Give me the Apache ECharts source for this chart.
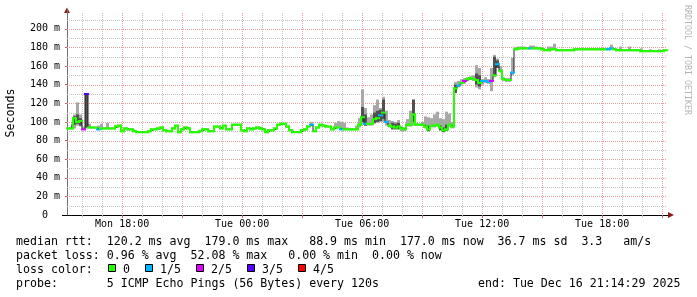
<!DOCTYPE html>
<html>
<head>
<meta charset="utf-8">
<script src="https://cdn.jsdelivr.net/npm/echarts@6/dist/echarts.min.js"></script>
<style>
html,body{margin:0;padding:0;background:#fff;}
#c{width:697px;height:297px;}
</style>
</head>
<body>
<div id="c"></div>
<script>
// ---- time grid (hours since Mon 00:00) ----
const T_START = 15 + 14 / 60 + 29 / 3600;   // Mon 15:14:29
const T_END = T_START + 30;                 // Tue 21:14:29
const STEP = 0.15;                          // 9 minutes per sample

// ---- tick positions / labels ----
const xLabelHours = [18, 24, 30, 36, 42];
const xTickLabels = ['Mon 18:00', 'Tue 00:00', 'Tue 06:00', 'Tue 12:00', 'Tue 18:00'];
const xMajorHours = [18, 21, 24, 27, 30, 33, 36, 39, 42, 45];
const xMinorHours = [16, 17, 19, 20, 22, 23, 25, 26, 28, 29, 31, 32, 34, 35, 37, 38, 40, 41, 43, 44];
const yLabelValues = [0, 20, 40, 60, 80, 100, 120, 140, 160, 180, 200];
const yTickLabels = ['0  ', '20 m', '40 m', '60 m', '80 m', '100 m', '120 m', '140 m', '160 m', '180 m', '200 m'];
const yMajorValues = [20, 40, 60, 80, 100, 120, 140, 160, 180, 200];
const yMinorValues = [10, 30, 50, 70, 90, 110, 130, 150, 170, 190, 210];

// ---- median rtt (ms) per sample ----
const median = [
  93, 93, 104, 100, 101, 92, 130, 94, 94, 94,
  92, 93, 93, 93, 93, 93, 95, 96, 90, 93,
  92, 92, 90, 89, 89, 89, 89, 90, 92, 92,
  93, 94, 91, 90, 90, 93, 96, 89, 92, 94,
  93, 89, 89, 89, 90, 92, 92, 90, 90, 95,
  95, 93, 96, 92, 92, 97, 97, 97, 91, 90,
  93, 92, 93, 94, 93, 92, 89, 91, 91, 93,
  97, 98, 98, 95, 91, 89, 89, 89, 91, 92,
  95, 97, 90, 94, 97, 96, 95, 95, 92, 94,
  94, 92, 92, 92, 92, 92, 92, 97, 105, 98,
  98, 98, 103, 104, 107, 110, 100, 96, 95, 94,
  95, 93, 92, 97, 97, 108, 97, 97, 97, 95,
  92, 96, 96, 97, 94, 91, 92, 97, 95, 136,
  139, 142, 144, 146, 147, 146, 145, 142, 144, 144,
  143, 144, 150, 162, 155, 146, 145, 145, 153, 178,
  179, 179, 179, 179, 179, 179, 179, 179, 178, 177,
  177, 178, 178, 177, 177, 177, 177, 177, 177, 178,
  178, 178, 178, 178, 178, 178, 178, 178, 178, 178,
  178, 179, 178, 177, 177, 177, 177, 177, 177, 177,
  177, 176, 176, 176, 176, 176, 176, 176, 176, 177
];

// ---- smoke (spread of pings) upper / lower per sample ----
const smokeHi = [
  94, 94, 108, 121, 108, 95, 130, 98, 95, 95,
  96, 98, 94, 99, 94, 94, 96, 97, 91, 94,
  93, 93, 91, 90, 90, 90, 90, 91, 93, 93,
  94, 95, 92, 91, 91, 94, 97, 90, 93, 95,
  94, 90, 90, 90, 91, 93, 93, 91, 91, 96,
  96, 94, 97, 93, 93, 98, 98, 98, 92, 91,
  94, 93, 94, 95, 94, 93, 90, 92, 92, 94,
  98, 99, 99, 96, 92, 90, 90, 90, 92, 93,
  96, 100, 91, 95, 98, 97, 96, 96, 93, 99,
  101, 100, 99, 94, 93, 93, 96, 104, 135, 115,
  105, 108, 118, 124, 115, 127, 112, 102, 101, 100,
  102, 95, 94, 103, 112, 124, 99, 98, 100, 106,
  105, 104, 108, 111, 104, 103, 111, 109, 100, 143,
  144, 146, 147, 148, 149, 150, 161, 158, 146, 148,
  146, 158, 172, 168, 160, 148, 147, 147, 169, 180,
  181, 181, 181, 180, 182, 182, 181, 180, 179, 178,
  181, 181, 184, 178, 178, 178, 178, 178, 178, 179,
  179, 179, 179, 179, 179, 179, 179, 179, 179, 179,
  179, 183, 179, 178, 181, 178, 178, 181, 178, 178,
  178, 179, 177, 177, 178, 177, 177, 178, 177, 178
];
const smokeLo = [
  92, 92, 93, 96, 95, 91, 93, 93, 93, 93,
  91, 92, 92, 92, 92, 92, 94, 95, 89, 92,
  91, 91, 89, 88, 88, 88, 88, 89, 91, 91,
  92, 93, 90, 89, 89, 92, 95, 88, 91, 93,
  92, 88, 88, 88, 89, 91, 91, 89, 89, 94,
  94, 92, 95, 91, 91, 96, 96, 96, 90, 89,
  92, 91, 92, 93, 92, 91, 88, 90, 90, 92,
  96, 97, 97, 94, 90, 88, 88, 88, 90, 91,
  94, 96, 89, 93, 96, 95, 94, 94, 91, 93,
  93, 91, 91, 91, 91, 91, 91, 94, 97, 96,
  96, 96, 98, 99, 100, 100, 96, 94, 93, 92,
  93, 90, 90, 95, 95, 96, 96, 96, 96, 93,
  90, 94, 94, 95, 91, 89, 90, 95, 93, 131,
  137, 140, 141, 144, 145, 144, 137, 135, 140, 142,
  141, 133, 148, 159, 153, 144, 143, 143, 150, 177,
  178, 178, 178, 178, 178, 178, 178, 178, 177, 176,
  176, 177, 177, 176, 176, 176, 176, 176, 176, 177,
  177, 177, 177, 177, 177, 177, 177, 177, 177, 177,
  177, 178, 177, 176, 176, 176, 176, 176, 176, 176,
  176, 175, 175, 175, 175, 175, 175, 175, 175, 176
];
// dense smoke core: [sample index, low, high]
const smokeCore = [
  [2, 97, 106], [3, 98, 108], [4, 96, 104], [6, 94, 130],
  [98, 100, 116], [99, 96, 108], [102, 99, 110], [103, 100, 112], [104, 101, 113], [105, 103, 124],
  [108, 92, 99], [109, 92, 98], [110, 92, 99], [115, 100, 124],
  [120, 90, 96], [124, 91, 96], [125, 89, 94], [126, 91, 97],
  [129, 131, 140], [136, 140, 152], [137, 138, 150], [142, 150, 170], [143, 158, 166]
];
// ---- loss class per sample (0 = 0/5 ... 4 = 4/5) ----
const loss = [
  0, 0, 0, 0, 0, 2, 3, 0, 0, 0,
  1, 0, 0, 0, 0, 0, 0, 0, 0, 0,
  0, 0, 0, 0, 0, 0, 0, 0, 0, 0,
  0, 0, 0, 0, 0, 0, 0, 0, 0, 0,
  0, 0, 0, 0, 0, 0, 0, 0, 0, 0,
  0, 0, 0, 0, 0, 0, 0, 0, 0, 0,
  0, 0, 0, 0, 0, 0, 0, 0, 0, 0,
  0, 0, 0, 0, 0, 0, 0, 0, 0, 0,
  0, 1, 0, 0, 0, 0, 0, 0, 0, 0,
  0, 1, 0, 0, 0, 0, 0, 0, 0, 1,
  0, 0, 0, 0, 1, 0, 1, 0, 0, 0,
  0, 0, 0, 0, 0, 0, 0, 0, 0, 0,
  0, 0, 0, 0, 0, 0, 0, 0, 0, 0,
  1, 0, 2, 0, 0, 0, 0, 0, 1, 1,
  1, 2, 0, 1, 0, 0, 0, 0, 1, 0,
  0, 0, 0, 0, 1, 0, 0, 0, 0, 0,
  0, 0, 0, 0, 0, 0, 0, 0, 0, 0,
  0, 0, 0, 0, 0, 0, 0, 0, 0, 0,
  1, 1, 0, 0, 0, 0, 0, 0, 0, 0,
  0, 0, 0, 0, 0, 0, 0, 0, 0, 0
];
const lossLabels = ['0', '1/5', '2/5', '3/5', '4/5'];
const lossColors = ['#26ff00', '#00b8ff', '#dd00ff', '#5500ff', '#ff0000'];

const statLines = [
  'median rtt:  120.2 ms avg  179.0 ms max   88.9 ms min  177.0 ms now  36.7 ms sd  3.3   am/s',
  'packet loss: 0.96 % avg  52.08 % max   0.00 % min  0.00 % now'
];
const probeText = 'probe:       5 ICMP Echo Pings (56 Bytes) every 120s';
const endText = 'end: Tue Dec 16 21:14:29 2025';

// ---- build ----
const HALF = STEP / 2;
const tAt = i => T_START + (i + 0.5) * STEP;
const smokeData = median.map((v, i) => [tAt(i), smokeLo[i], smokeHi[i]]);
const coreData = smokeCore.map(d => [tAt(d[0]), d[1], d[2]]);
const lineData = median.map((v, i) => [tAt(i), v]);
const segData = median.map((v, i) => {
  const last = i === median.length - 1;
  return [tAt(i), v, loss[i], last ? v : median[i + 1], last ? loss[i] : loss[i + 1]];
});

const MONO = '"DejaVu Sans Mono", monospace';
const GRID_MINOR = '#c2c2c2';
const GRID_MAJOR = '#eb9e9e';

const chart = echarts.init(document.getElementById('c'), null, {renderer: 'canvas'});

function bandRenderer(color) {
  return function (params, api) {
    const t = api.value(0), lo = api.value(1), hi = api.value(2);
    const a = api.coord([t - HALF, hi]);
    const b = api.coord([t + HALF, lo]);
    const h = Math.max(1, b[1] - a[1]);
    return {type: 'rect', shape: {x: a[0], y: a[1], width: b[0] - a[0], height: h},
            style: {fill: color}};
  };
}
function vGridRenderer(color) {
  return function (params, api) {
    const cs = params.coordSys;
    const p = api.coord([api.value(0), 0]);
    const x = Math.round(p[0]) + 0.5;
    return {type: 'line', shape: {x1: x, y1: cs.y, x2: x, y2: cs.y + cs.height},
            style: {stroke: color, lineWidth: 1, lineDash: [1, 1]}, silent: true};
  };
}
function hGridRenderer(color) {
  return function (params, api) {
    const cs = params.coordSys;
    const p = api.coord([T_START, api.value(1)]);
    const y = Math.round(p[1]) + 0.5;
    return {type: 'line', shape: {x1: cs.x, y1: y, x2: cs.x + cs.width, y2: y},
            style: {stroke: color, lineWidth: 1, lineDash: [1, 1]}, silent: true};
  };
}

const g = [];
const txt = (x, y, text, extra) => Object.assign({type: 'text', x: x, y: y,
  style: Object.assign({text: text, font: '11.6px ' + MONO, fill: '#000', align: 'left', verticalAlign: 'middle',
          textAlign: 'left', textVerticalAlign: 'middle'}, extra || {})});
statLines.forEach((s, k) => g.push(txt(16, 241.5 + k * 14, s)));
g.push(txt(16, 269.5, 'loss color:'));
const boxX = [108, 145, 196, 247, 298];
lossLabels.forEach((lab, k) => {
  g.push({type: 'rect', shape: {x: boxX[k] + 0.5, y: 264.5, width: 7, height: 7},
    style: {fill: lossColors[k], stroke: '#000', lineWidth: 1}});
  g.push(txt(boxX[k] + 15, 269.5, lab));
});
g.push(txt(16, 283.5, probeText));
g.push(txt(478, 283.5, endText));
const seconds = txt(11, 113, 'Seconds', {align: 'center', textAlign: 'center'});
seconds.rotation = Math.PI / 2;
g.push(seconds);
const wm = txt(687, 60, 'RRDTOOL / TOBI OETIKER', {align: 'center', textAlign: 'center', font: '8.3px ' + MONO, fill: '#b4b4b4'});
wm.rotation = -Math.PI / 2;
g.push(wm);
// axis arrows
g.push({type: 'polygon', shape: {points: [[64, 13], [70, 13], [67, 7.5]]}, style: {fill: '#8b1a1a'}});
g.push({type: 'line', shape: {x1: 67.5, y1: 13, x2: 67.5, y2: 9}, style: {stroke: '#707070', lineWidth: 1}});
g.push({type: 'polygon', shape: {points: [[668, 212], [668, 218], [674, 215]]}, style: {fill: '#8b1a1a'}});
g.push({type: 'line', shape: {x1: 62, y1: 215.5, x2: 668, y2: 215.5}, style: {stroke: '#000', lineWidth: 1}});

const option = {
  animation: false,
  backgroundColor: '#fff',
  grid: {left: 67, right: 30, top: 13, bottom: 82, containLabel: false},
  xAxis: [
    {type: 'value', min: T_START, max: T_END, position: 'bottom',
     axisLine: {show: false},
     axisTick: {show: true, customValues: xMinorHours, length: 2, lineStyle: {color: '#b0b0b0'}},
     axisLabel: {show: false},
     splitLine: {show: false}},
    {type: 'value', min: T_START, max: T_END, position: 'bottom',
     axisLine: {show: false},
     axisTick: {show: true, customValues: xMajorHours, length: 3, lineStyle: {color: '#d06060'}},
     axisLabel: {show: true, customValues: xLabelHours, margin: 4,
                 fontFamily: MONO, fontSize: 10, color: '#000',
                 formatter: v => xTickLabels[xLabelHours.indexOf(v)]},
     splitLine: {show: false}}
  ],
  yAxis: [
    {type: 'value', min: 0, max: 217, position: 'left',
     axisLine: {show: true, onZero: false, lineStyle: {color: '#707070'}},
     axisTick: {show: true, customValues: yMajorValues, length: 2, lineStyle: {color: '#d06060'}},
     axisLabel: {show: true, customValues: yLabelValues, margin: 7,
                 fontFamily: MONO, fontSize: 10, color: '#000',
                 formatter: v => yTickLabels[yLabelValues.indexOf(v)]},
     splitLine: {show: false}}
  ],
  series: [
    {name: 'gridMinorX', type: 'custom', z: 1, silent: true, encode: {x: 0, y: 1},
     renderItem: vGridRenderer(GRID_MINOR), data: xMinorHours.map(h => [h, 0])},
    {name: 'gridMinorY', type: 'custom', z: 1, silent: true, encode: {x: 0, y: 1},
     renderItem: hGridRenderer(GRID_MINOR), data: yMinorValues.map(v => [T_START, v])},
    {name: 'gridMajorX', type: 'custom', z: 2, silent: true, encode: {x: 0, y: 1},
     renderItem: vGridRenderer(GRID_MAJOR), data: xMajorHours.map(h => [h, 0])},
    {name: 'gridMajorY', type: 'custom', z: 2, silent: true, encode: {x: 0, y: 1},
     renderItem: hGridRenderer(GRID_MAJOR), data: yMajorValues.map(v => [T_START, v])},
    {name: 'smoke', type: 'custom', z: 3,
     renderItem: bandRenderer('#a8a8a8'), encode: {x: 0, y: [1, 2]}, data: smokeData},
    {name: 'smokeCore', type: 'custom', z: 4,
     renderItem: bandRenderer('#505050'), encode: {x: 0, y: [1, 2]}, data: coreData},
    {name: 'median', type: 'line', z: 5,
     step: 'middle', showSymbol: false, symbol: 'none',
     lineStyle: {color: '#202020', width: 1}, data: lineData},
    {name: 'medianLoss', type: 'custom', z: 6,
     encode: {x: 0, y: 1},
     renderItem: function (params, api) {
       const t = api.value(0), v = api.value(1), c = api.value(2), vn = api.value(3), cn = api.value(4);
       const pL = api.coord([t - HALF, v]);
       const pR = api.coord([t + HALF, v]);
       const col = lossColors[c];
       const children = [{type: 'line', shape: {x1: pL[0], y1: pL[1], x2: pR[0], y2: pR[1]},
                          style: {stroke: col, lineWidth: 2, lineCap: 'square'}}];
       if (cn === c && vn !== v) {
         const pN = api.coord([t + HALF, vn]);
         children.push({type: 'line', shape: {x1: pR[0], y1: pR[1], x2: pN[0], y2: pN[1]},
                        style: {stroke: col, lineWidth: 2, lineCap: 'square'}});
       }
       return {type: 'group', children: children};
     },
     data: segData}
  ],
  graphic: g
};
chart.setOption(option);
</script>
</body>
</html>
